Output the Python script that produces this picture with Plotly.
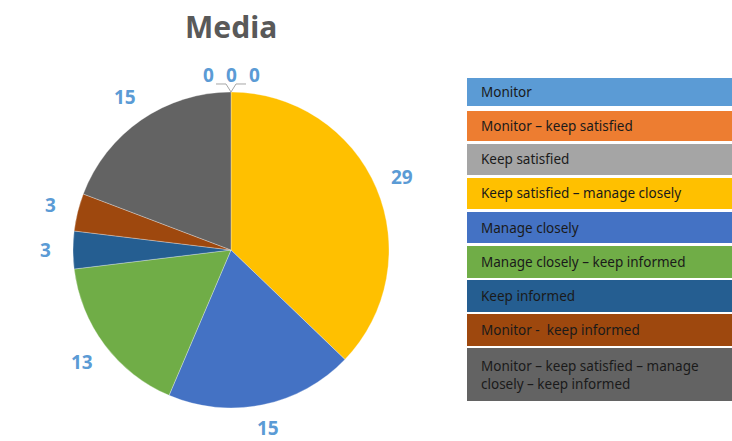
import math
import plotly.graph_objects as go

# ---------------- data ----------------
title_text = "Media"
categories = [
    "Monitor",
    "Monitor – keep satisfied",
    "Keep satisfied",
    "Keep satisfied – manage closely",
    "Manage closely",
    "Manage closely – keep informed",
    "Keep informed",
    "Monitor -  keep informed",
    "Monitor – keep satisfied – manage<br>closely – keep informed",
]
values = [0, 0, 0, 29, 15, 13, 3, 3, 15]
colors = ["#5B9BD5", "#ED7D31", "#A5A5A5", "#FFC000", "#4472C4",
          "#70AD47", "#255E91", "#9E480E", "#636363"]

# ---------------- layout helpers ----------------
W, H = 732, 441
cx, cy, R = 231, 250, 158          # pie centre / radius in pixels
label_r = 182                      # radius of data labels
label_color = "#5B9BD5"


def px(x):
    return x / W


def py(y):
    return 1 - y / H


fig = go.Figure(go.Pie(
    labels=[c.replace("<br>", " ") for c in categories],
    values=values,
    sort=False,
    direction="clockwise",
    rotation=0,
    marker=dict(colors=colors, line=dict(width=0.6, color="rgba(255,255,255,0.5)")),
    textinfo="none",
    hoverinfo="label+value",
    showlegend=False,
    domain=dict(x=[px(cx - R), px(cx + R)], y=[py(cy + R), py(cy - R)]),
))

annotations = []
shapes = []

# title
annotations.append(dict(x=px(cx), y=py(26), xref="paper", yref="paper",
                        text="<b>" + title_text + "</b>", showarrow=False,
                        font=dict(family="Noto Sans", size=30, color="#595959"),
                        xanchor="center", yanchor="middle"))

# data labels
total = sum(values)
cum = 0
zeros = []
for v in values:
    mid = (cum + v / 2) / total * 2 * math.pi
    cum += v
    if v == 0:
        zeros.append((v, mid))
        continue
    lx = cx + (label_r + 4) * math.sin(mid)
    ly = min(cy - (label_r + 4) * math.cos(mid), H - 13)
    annotations.append(dict(x=px(lx), y=py(ly), xref="paper", yref="paper",
                            text="<b>%d</b>" % v, showarrow=False,
                            font=dict(family="Noto Sans", size=19, color=label_color),
                            xanchor="center", yanchor="middle"))

# zero labels spread above the top of the pie with leader lines
n0 = len(zeros)
spread = 23
zy = cy - R - 17
for k, (v, mid) in enumerate(zeros):
    off = (k - (n0 - 1) / 2) * spread
    annotations.append(dict(x=px(cx + off), y=py(zy), xref="paper", yref="paper",
                            text="<b>%d</b>" % v, showarrow=False,
                            font=dict(family="Noto Sans", size=19, color=label_color),
                            xanchor="center", yanchor="middle"))
if n0:
    top = (px(cx), py(cy - R))
    ly = py(cy - R - 8)
    path = "M %f,%f L %f,%f L %f,%f L %f,%f L %f,%f" % (
        px(cx - spread + 8), ly, px(cx - 5), ly, top[0], top[1],
        px(cx + 5), ly, px(cx + spread - 8), ly)
    shapes.append(dict(type="path", path=path, xref="paper", yref="paper",
                       line=dict(color="#A6A6A6", width=1)))

# custom legend boxes
box_left, box_right, text_left = 467, 732, 479
box_tops = [78, 111, 144, 178, 212, 246, 280, 314, 348]
box_heights = [28, 30, 31, 31, 31, 32, 32, 32, 53]
for i, cat in enumerate(categories):
    t = box_tops[i]
    b = t + box_heights[i]
    shapes.append(dict(type="rect", xref="paper", yref="paper",
                       x0=px(box_left), x1=px(box_right), y0=py(b), y1=py(t),
                       fillcolor=colors[i], line=dict(width=0), layer="below"))
    annotations.append(dict(x=px(text_left), y=py((t + b) / 2), xref="paper", yref="paper",
                            text=cat, showarrow=False, align="left",
                            font=dict(family="Noto Sans", size=13.5, color="#1A1A1A"),
                            xanchor="left", yanchor="middle"))

fig.update_layout(
    width=W, height=H,
    margin=dict(l=0, r=0, t=0, b=0),
    paper_bgcolor="white", plot_bgcolor="white",
    annotations=annotations, shapes=shapes,
    showlegend=False,
)

fig.write_html("out.html",
               config={"displayModeBar": False},
               post_script="document.body.style.margin='0';document.body.style.overflow='hidden';")
